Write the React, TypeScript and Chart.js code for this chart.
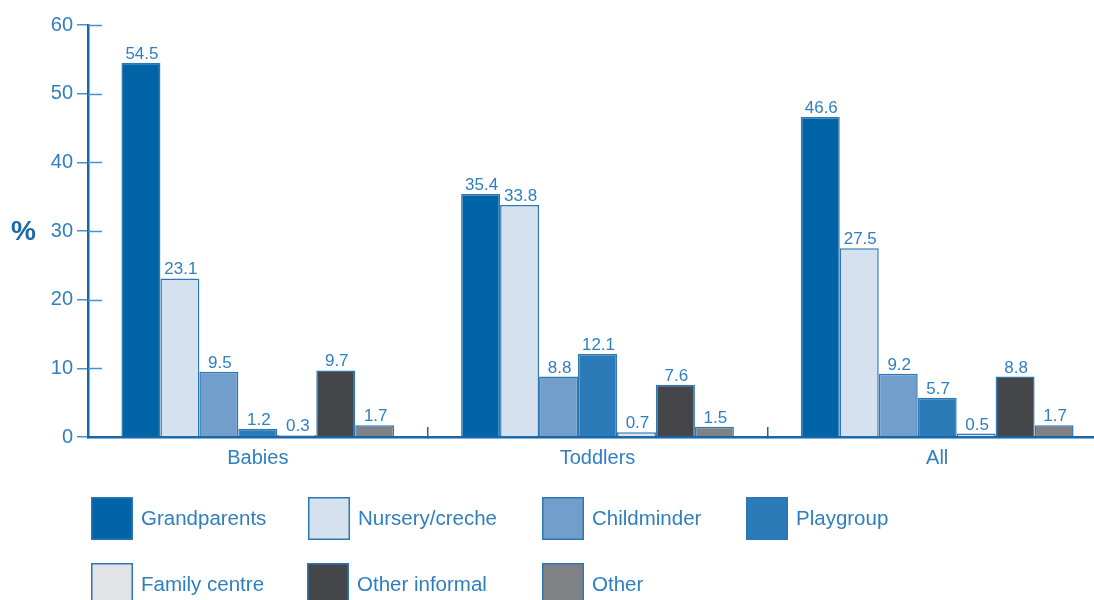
import React, { useEffect, useRef } from "react";
import { Chart, registerables } from "chart.js";

Chart.register(...registerables);

const categories = ["Babies", "Toddlers", "All"];
const seriesNames = ["Grandparents", "Nursery/creche", "Childminder", "Playgroup", "Family centre", "Other informal", "Other"];
const grandparents = [54.5, 35.4, 46.6];
const nursery = [23.1, 33.8, 27.5];
const childminder = [9.5, 8.8, 9.2];
const playgroup = [1.2, 12.1, 5.7];
const familyCentre = [0.3, 0.7, 0.5];
const otherInformal = [9.7, 7.6, 8.8];
const other = [1.7, 1.5, 1.7];
const yTicks = [0, 10, 20, 30, 40, 50, 60];

const seriesValues = [grandparents, nursery, childminder, playgroup, familyCentre, otherInformal, other];
const fills = ["#0064a7", "#d5e1ef", "#729ecb", "#2a7bb8", "#e2e3e5", "#454649", "#808184"];
const BORDER = "#2e77b5";
const TEXT = "#2f7fbf";
const AXIS = "#1666a9";
const FONT = "'Liberation Sans', Arial, Helvetica, sans-serif";

// legend layout (positions only)
const legendCols = [91, 308, 542, 746];
const legendRows = [497, 563];

const extrasPlugin = {
  id: "extras",
  afterDraw(chart: any) {
    const ctx = chart.ctx;
    const y = chart.scales.y;
    const area = chart.chartArea;
    ctx.save();
    // inner part of y ticks
    ctx.strokeStyle = "#4a91ca";
    ctx.lineWidth = 1.5;
    yTicks.forEach((v) => {
      if (v === 0) return;
      const py = Math.round(y.getPixelForValue(v)) + 0.5;
      ctx.beginPath();
      ctx.moveTo(area.left, py);
      ctx.lineTo(area.left + 14, py);
      ctx.stroke();
    });
    // % label
    ctx.fillStyle = "#1a6aab";
    ctx.font = `bold 28px ${FONT}`;
    ctx.textAlign = "left";
    ctx.textBaseline = "middle";
    ctx.fillText("%", 11, y.getPixelForValue(30) + 1);

    // data labels
    ctx.font = `17px ${FONT}`;
    ctx.fillStyle = TEXT;
    ctx.textAlign = "center";
    ctx.textBaseline = "alphabetic";
    chart.data.datasets.forEach((ds: any, i: number) => {
      const meta = chart.getDatasetMeta(i);
      meta.data.forEach((el: any, j: number) => {
        ctx.fillText(String(ds.data[j].toFixed(1)), el.x + 1, el.y - 4);
      });
    });

    // legend
    ctx.font = `20.5px ${FONT}`;
    ctx.textAlign = "left";
    ctx.textBaseline = "middle";
    seriesNames.forEach((name, i) => {
      const col = i < 4 ? i : i - 4;
      const row = i < 4 ? 0 : 1;
      let bx = legendCols[col];
      if (row === 1 && col === 1) bx = 307;
      const by = legendRows[row];
      ctx.fillStyle = fills[i];
      ctx.fillRect(bx, by, 42, 43);
      ctx.strokeStyle = BORDER;
      ctx.lineWidth = 1.5;
      ctx.strokeRect(bx + 0.75, by + 0.75, 40.5, 41.5);
      ctx.fillStyle = TEXT;
      ctx.fillText(name, bx + 50, by + 22);
    });
    ctx.restore();
  },
};

export default function App() {
  const ref = useRef<HTMLCanvasElement>(null);
  useEffect(() => {
    if (!ref.current) return;
    const chart = new Chart(ref.current, {
      type: "bar",
      data: {
        labels: categories,
        datasets: seriesNames.map((name, i) => ({
          label: name,
          data: seriesValues[i],
          backgroundColor: fills[i],
          borderColor: BORDER,
          borderWidth: 1.5,
          barPercentage: 1,
          categoryPercentage: 0.803,
        })),
      },
      options: {
        responsive: false,
        animation: false,
        layout: { padding: { left: 0, right: 13, top: 25, bottom: 123 } },
        plugins: { legend: { display: false }, tooltip: { enabled: false } },
        scales: {
          x: {
            grid: { drawOnChartArea: false, tickLength: -10, color: AXIS, lineWidth: 1.5 },
            border: { display: true, color: AXIS, width: 2.5 },
            ticks: { color: TEXT, font: { size: 20, family: FONT }, padding: 19 },
            afterFit(scale: any) {
              scale.height = 40;
            },
          },
          y: {
            min: 0,
            max: 60,
            ticks: { stepSize: 10, color: TEXT, font: { size: 20, family: FONT }, padding: 4 },
            grid: { drawOnChartArea: false, tickLength: 11, color: "#4a91ca", lineWidth: 1.5 },
            border: { display: true, color: AXIS, width: 2.5 },
            afterFit(scale: any) {
              scale.width = 88;
            },
          },
        },
      },
      plugins: [extrasPlugin],
    });
    return () => chart.destroy();
  }, []);
  return (
    <div style={{ position: "absolute", left: 0, top: 0, width: 1094, height: 600, overflow: "hidden", background: "#fff" }}>
      <canvas ref={ref} width={1120} height={600} style={{ width: 1120, height: 600, display: "block" }} />
    </div>
  );
}
